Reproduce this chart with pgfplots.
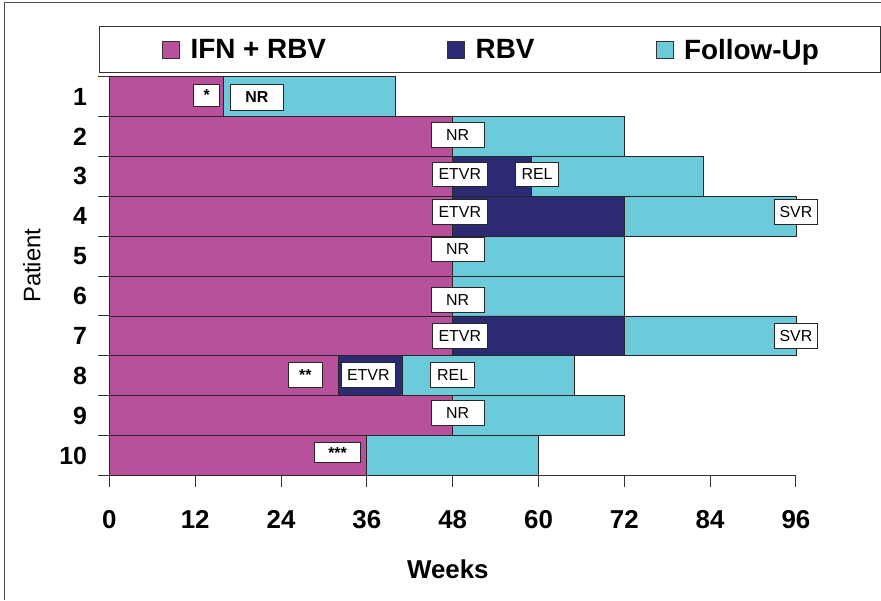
\documentclass[border=0pt]{standalone}
\usepackage{fontspec}
\setmainfont{Liberation Sans}
\usepackage{pgfplots}
\pgfplotsset{compat=1.18}
\definecolor{ifn}{HTML}{B9509B}
\definecolor{rbv}{HTML}{2B2A72}
\definecolor{fu}{HTML}{6CCBDB}
\newcommand{\fs}[1]{\fontsize{#1}{#1}\selectfont}
\tikzset{lab/.style={draw=black!85, line width=0.8pt, fill=white, font=\fs{16}, inner sep=0pt, minimum height=25pt, anchor=center}}
\begin{document}
\begin{tikzpicture}
\begin{axis}[
  name=ax,
  scale only axis, width=690pt, height=401pt,
  xbar stacked, bar width=1,
  xmin=0, xmax=96, ymin=0.5, ymax=10.5, y dir=reverse,
  axis lines=left, axis line style={-, draw=black!80, line width=1.2pt},
  xtick={0,12,...,96}, tick align=outside, major tick length=11pt,
  tick style={draw=black!80, line width=1pt},
  ytick={0.5,1.5,2.5,3.5,4.5,5.5,6.5,7.5,8.5,9.5,10.5},
  yticklabels={1,2,3,4,5,6,7,8,9,10,{}},
  yticklabel style={yshift=-20pt, xshift=-8pt, font=\bfseries\fs{25}},
  xticklabel style={yshift=-20pt, font=\bfseries\fs{26}},
  /pgf/number format/assume math mode=true,
  xlabel={Weeks}, xlabel style={font=\bfseries\fs{26}, at={(axis description cs:0.493,-0.236)}, anchor=center},
  ylabel={Patient}, ylabel style={font=\fs{24}, at={(axis description cs:-0.113,0.526)}, anchor=center, rotate=0},
  clip=false,
  legend columns=3,
  legend style={at={(axis description cs:0.0768,1.0673)}, anchor=west, draw=none, fill=none,
    font=\bfseries\fs{28}, inner sep=0pt,
    /tikz/every even column/.append style={column sep=120pt}},
  legend image code/.code={\draw[#1, draw=black!80, line width=0.8pt] (0pt,-8.5pt) rectangle (17pt,8.5pt); \path[draw=none, fill=none] (0pt,0pt) rectangle (26pt,0.1pt);},
]
\addplot[fill=ifn, draw=black!85, line width=0.8pt] coordinates {(16,1) (48,2) (48,3) (48,4) (48,5) (48,6) (48,7) (32,8) (48,9) (36,10)};
\addplot[fill=rbv, draw=black!85, line width=0.8pt] coordinates {(0,1) (0,2) (11,3) (24,4) (0,5) (0,6) (24,7) (9,8) (0,9) (0,10)};
\addplot[fill=fu, draw=black!85, line width=0.8pt] coordinates {(24,1) (24,2) (24,3) (24,4) (24,5) (24,6) (24,7) (24,8) (24,9) (24,10)};
\legend{IFN + RBV, RBV, Follow-Up}
\coordinate (a1) at (axis cs:13.6,0.97);
\coordinate (a2) at (axis cs:20.6,1.02);
\coordinate (a3) at (axis cs:48.7,1.97);
\coordinate (a4) at (axis cs:49,2.95);
\coordinate (a5) at (axis cs:59.8,2.95);
\coordinate (a6) at (axis cs:49,3.9);
\coordinate (a7) at (axis cs:96,3.9);
\coordinate (a8) at (axis cs:48.7,4.83);
\coordinate (a9) at (axis cs:48.7,6.1);
\coordinate (a10) at (axis cs:49,7.0);
\coordinate (a11) at (axis cs:96,7.0);
\coordinate (a12) at (axis cs:27.4,7.98);
\coordinate (a13) at (axis cs:36.2,7.98);
\coordinate (a14) at (axis cs:48,7.98);
\coordinate (a15) at (axis cs:48.7,8.93);
\coordinate (a16) at (axis cs:31.9,9.93);
\end{axis}
\node[lab, minimum width=26pt, minimum height=22pt, font=\bfseries\fs{16}] at (a1) {*};
\node[lab, minimum width=53pt, minimum height=26pt, font=\bfseries\fs{16}] at (a2) {NR};
\node[lab, minimum width=53pt] at (a3) {NR};
\node[lab, minimum width=56pt] at (a4) {ETVR};
\node[lab, minimum width=43pt] at (a5) {REL};
\node[lab, minimum width=56pt] at (a6) {ETVR};
\node[lab, minimum width=44pt] at (a7) {SVR};
\node[lab, minimum width=53pt] at (a8) {NR};
\node[lab, minimum width=53pt] at (a9) {NR};
\node[lab, minimum width=56pt] at (a10) {ETVR};
\node[lab, minimum width=44pt] at (a11) {SVR};
\node[lab, minimum width=35pt, font=\bfseries\fs{16}] at (a12) {**};
\node[lab, minimum width=55pt] at (a13) {ETVR};
\node[lab, minimum width=44pt] at (a14) {REL};
\node[lab, minimum width=53pt] at (a15) {NR};
\node[lab, minimum width=46pt, minimum height=20pt, font=\bfseries\fs{16}] at (a16) {***};
\coordinate (O) at (ax.south west);
\draw[black!80, line width=1pt] ([shift={(-10pt,405pt)}]O) rectangle ([shift={(775pt,451pt)}]O);
\draw[black!70, line width=1pt] ([shift={(-105pt,-125pt)}]O) -- ([shift={(-105pt,475pt)}]O) -- ([shift={(775pt,475pt)}]O);
\path[use as bounding box] ([shift={(-110pt,-121pt)}]O) rectangle ([shift={(771pt,478pt)}]O);
\end{tikzpicture}
\end{document}
